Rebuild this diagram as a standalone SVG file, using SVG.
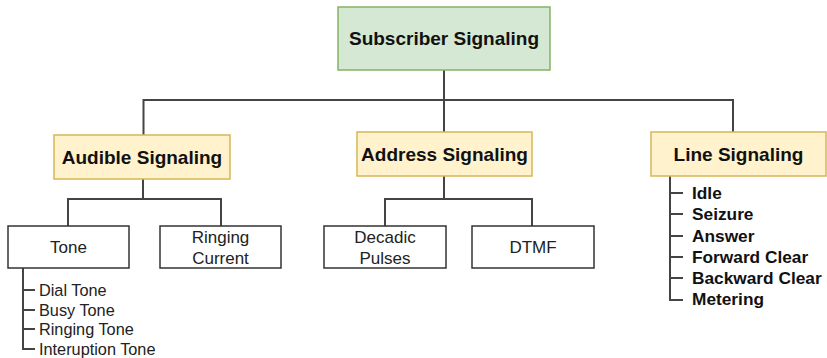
<svg xmlns="http://www.w3.org/2000/svg" width="827" height="358" viewBox="0 0 827 358">
  <style>
    .root { fill: #d5e8d4; stroke: #82b366; stroke-width: 1.5; }
    .cat { fill: #fff2cc; stroke: #d6b656; stroke-width: 1.5; }
    .leaf { fill: #ffffff; stroke: #333333; stroke-width: 1.5; }
    .head { font-family: "Liberation Sans", Arial, sans-serif; font-weight: bold; font-size: 19px; fill: #111111; text-anchor: middle; dominant-baseline: central; }
    .lbl { font-family: "Liberation Sans", Arial, sans-serif; font-size: 17px; fill: #222222; text-anchor: middle; dominant-baseline: central; }
    .item { font-family: "Liberation Sans", Arial, sans-serif; font-size: 16.3px; fill: #222222; dominant-baseline: central; }
    .bitem { font-family: "Liberation Sans", Arial, sans-serif; font-size: 17.3px; font-weight: bold; fill: #111111; dominant-baseline: central; }
    .wire { fill: none; stroke: #444444; stroke-width: 2; }
  </style>

  <!-- connectors -->
  <g id="connectors" class="wire">
    <path d="M444 70 V100"/>
    <path d="M143.5 135 V100 H733 V132"/>
    <path d="M444 100 V132"/>
    <!-- audible branch -->
    <path d="M143 179 V199"/>
    <path d="M68 226 V199 H221 V226"/>
    <!-- address branch -->
    <path d="M444 176 V199"/>
    <path d="M385 226 V199 H532 V226"/>
    <!-- tone list -->
    <path d="M23 268 V349 H35 M23 290 H35 M23 310 H35 M23 329 H35"/>
    <!-- line signaling list -->
    <path d="M670 176 V300 H683 M670 193 H683 M670 214 H683 M670 236 H683 M670 257 H683 M670 278 H683"/>
  </g>

  <g id="subscriber-signaling">
    <rect class="root" x="338" y="7" width="212" height="63"/>
    <text class="head" x="444" y="38.5">Subscriber Signaling</text>
  </g>

  <g id="audible-signaling">
    <rect class="cat" x="54" y="135" width="176" height="44"/>
    <text class="head" x="142" y="157">Audible Signaling</text>
  </g>

  <g id="address-signaling">
    <rect class="cat" x="357" y="132" width="175" height="44"/>
    <text class="head" x="444.5" y="154">Address Signaling</text>
  </g>

  <g id="line-signaling">
    <rect class="cat" x="651" y="132" width="175" height="44"/>
    <text class="head" x="738.5" y="154">Line Signaling</text>
  </g>

  <g id="tone">
    <rect class="leaf" x="8" y="226" width="121" height="42"/>
    <text class="lbl" x="68.5" y="247.5">Tone</text>
  </g>

  <g id="ringing-current">
    <rect class="leaf" x="160" y="226" width="121" height="42"/>
    <text class="lbl" x="220.5" y="237">Ringing</text>
    <text class="lbl" x="220.5" y="258">Current</text>
  </g>

  <g id="decadic-pulses">
    <rect class="leaf" x="324" y="226" width="122" height="42"/>
    <text class="lbl" x="385" y="237">Decadic</text>
    <text class="lbl" x="385" y="258">Pulses</text>
  </g>

  <g id="dtmf">
    <rect class="leaf" x="472" y="226" width="122" height="42"/>
    <text class="lbl" x="533" y="247.5">DTMF</text>
  </g>

  <g id="tone-types">
    <text class="item" x="39" y="290">Dial Tone</text>
    <text class="item" x="39" y="310">Busy Tone</text>
    <text class="item" x="39" y="329">Ringing Tone</text>
    <text class="item" x="39" y="349">Interuption Tone</text>
  </g>

  <g id="line-states">
    <text class="bitem" x="692" y="193">Idle</text>
    <text class="bitem" x="692" y="214">Seizure</text>
    <text class="bitem" x="692" y="236">Answer</text>
    <text class="bitem" x="692" y="257">Forward Clear</text>
    <text class="bitem" x="692" y="278">Backward Clear</text>
    <text class="bitem" x="692" y="299">Metering</text>
  </g>
</svg>
